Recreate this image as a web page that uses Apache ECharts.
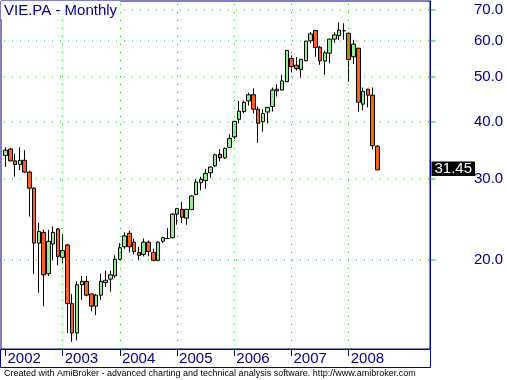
<!DOCTYPE html>
<html>
<head>
<meta charset="utf-8">
<script src="https://cdn.jsdelivr.net/npm/echarts@6/dist/echarts.min.js"></script>
<style>
html,body{margin:0;padding:0;background:#fff;}
#chart{width:507px;height:380px;}
</style>
</head>
<body>
<div id="chart"></div>
<script>
// ---- data (VIE.PA monthly, Jan 2002 .. Jul 2008) ----
const years = ['2002', '2003', '2004', '2005', '2006', '2007', '2008'];
const yearStartIndex = [0, 12, 24, 36, 48, 60, 72];
const priceTicks = [20, 30, 40, 50, 60, 70];
const opens = [
  33.8, 34.9, 32.9, 32.3, 33.0, 31.1, 28.7, 21.8, 23.0, 18.7, 21.7, 23.4,
  20.3, 21.6, 16.1, 13.9, 17.7, 18.0, 16.9, 15.9, 16.8, 17.9, 18.2, 18.5,
  20.1, 21.4, 22.9, 21.9, 20.8, 20.6, 21.9, 20.8, 20.0, 22.0, 22.3, 22.4,
  25.2, 25.8, 24.7, 25.8, 27.8, 29.5, 29.8, 31.0, 32.1, 34.0, 33.4, 35.2,
  37.1, 40.5, 42.1, 44.4, 45.8, 42.6, 40.0, 42.0, 43.2, 46.7, 46.9, 48.9,
  54.9, 53.1, 52.0, 54.3, 60.0, 63.2, 58.1, 54.2, 56.4, 60.5, 61.6, 63.1,
  62.3, 55.4, 57.8, 43.7, 47.1, 45.7, 35.4
];
const closes = [
  34.7, 32.9, 32.3, 33.0, 31.1, 28.7, 21.8, 23.1, 18.6, 22.0, 23.0, 20.4,
  21.0, 16.1, 13.9, 17.7, 18.0, 16.8, 15.9, 16.8, 18.0, 18.1, 18.6, 20.1,
  21.3, 22.6, 21.4, 20.9, 20.5, 21.9, 20.9, 20.0, 21.9, 22.4, 22.3, 25.2,
  25.9, 24.8, 25.8, 27.6, 29.6, 30.0, 30.9, 31.9, 33.9, 33.4, 35.0, 36.8,
  40.1, 42.2, 44.1, 45.8, 42.6, 39.7, 41.7, 43.0, 46.9, 47.1, 49.1, 57.2,
  52.7, 52.2, 54.7, 59.9, 62.1, 58.0, 54.3, 56.5, 60.5, 61.8, 63.3, 63.1,
  54.6, 59.0, 44.1, 46.6, 45.7, 35.5, 31.45
];
const lows = [
  31.9, 32.8, 30.4, 31.4, 31.0, 24.9, 18.7, 17.0, 15.9, 18.5, 20.0, 19.5,
  19.7, 13.9, 13.3, 13.4, 16.4, 16.7, 15.5, 15.2, 16.4, 17.5, 17.1, 18.3,
  20.0, 21.2, 20.8, 20.6, 20.0, 20.4, 20.4, 19.9, 19.9, 21.8, 22.3, 22.3,
  23.9, 24.1, 23.9, 25.7, 27.7, 28.4, 28.6, 30.2, 31.9, 32.8, 33.2, 35.1,
  36.7, 39.7, 41.7, 43.4, 41.7, 36.0, 38.1, 39.7, 42.1, 45.4, 46.8, 48.8,
  51.2, 51.7, 49.9, 54.2, 59.3, 55.4, 53.2, 50.6, 53.6, 59.4, 60.3, 60.3,
  48.9, 53.4, 42.1, 42.4, 43.0, 34.8, 31.4
];
const highs = [
  35.2, 35.1, 34.1, 35.2, 34.7, 31.3, 28.8, 24.1, 23.3, 23.3, 23.7, 23.5,
  22.8, 21.7, 16.9, 18.0, 18.5, 18.5, 16.9, 16.9, 18.7, 19.0, 19.0, 20.5,
  21.8, 23.0, 23.2, 22.3, 21.4, 22.3, 22.1, 21.2, 22.0, 22.5, 23.5, 25.3,
  26.0, 26.8, 25.9, 27.7, 30.0, 30.4, 31.6, 32.0, 34.1, 34.9, 35.2, 37.6,
  40.2, 44.4, 44.5, 46.3, 47.3, 43.2, 42.6, 43.1, 47.5, 48.3, 50.6, 57.3,
  55.8, 55.3, 54.8, 60.0, 62.7, 63.3, 58.5, 57.1, 60.6, 62.6, 65.8, 65.5,
  62.6, 60.3, 58.0, 47.5, 47.2, 47.5, 35.6
];

// logarithmic price scale: the value axis works in log10(price)
const LOG = v => Math.log10(v);
const candleData = opens.map((o, i) => [i, LOG(o), LOG(closes[i]), LOG(lows[i]), LOG(highs[i])]);
const lastClose = closes[closes.length - 1];
const logTicks = priceTicks.map(LOG);

const NAVY = '#00008c';
const GRID_GREEN = '#00c800';
const FONT = 'Liberation Sans, Arial, sans-serif';
const X_MIN = -0.944, X_MAX = 89.05;
const Y_MIN = 12.83, Y_MAX = 73.23;

// horizontal dotted price gridlines + green outer ticks, placed through the axes
function renderPriceGrid(params, api) {
  const v = api.value(1);
  const pL = api.coord([X_MIN, v]);
  const pR = api.coord([X_MAX, v]);
  const row = Math.round(pL[1]);
  const children = [];
  for (let x = Math.round(pL[0]) + 3; x < pR[0] - 1; x += 8) {
    children.push({type: 'rect', shape: {x: x, y: row - 0.5, width: 1, height: 1},
      style: {fill: GRID_GREEN}});
  }
  children.push({type: 'rect', shape: {x: Math.round(pR[0]) + 0.5, y: row - 0.5, width: 5, height: 1},
    style: {fill: GRID_GREEN}});
  return {type: 'group', children: children};
}

const chart = echarts.init(document.getElementById('chart'), null, {renderer: 'canvas'});
chart.setOption({
  animation: false,
  backgroundColor: '#fff',
  title: [{
    text: 'VIE.PA - Monthly',
    left: 1, top: 1,
    padding: [2, 3, 1, 3],
    backgroundColor: '#fff',
    z: 10,
    textStyle: {color: NAVY, fontSize: 15, fontWeight: 'normal', fontFamily: FONT}
  }, {
    text: 'Created with AmiBroker - advanced charting and technical analysis software. http://www.amibroker.com',
    left: 1, top: 368,
    padding: [1, 3, 0, 3],
    textStyle: {color: '#000', fontSize: 9, fontWeight: 'normal', fontFamily: FONT}
  }],
  grid: {
    left: 1, top: 1, right: 77, bottom: 31,
    show: true, borderColor: NAVY, borderWidth: 1, backgroundColor: 'transparent'
  },
  xAxis: {
    type: 'value',
    min: X_MIN, max: X_MAX,
    position: 'bottom',
    axisLine: {show: true, onZero: false, lineStyle: {color: NAVY, width: 1}},
    axisTick: {show: true, inside: false, length: 7, customValues: yearStartIndex, lineStyle: {color: NAVY}},
    axisLabel: {
      show: true, customValues: yearStartIndex, align: 'left', margin: 2,
      padding: [0, 0, 0, 2],
      color: NAVY, fontSize: 15, fontFamily: FONT,
      formatter: v => years[yearStartIndex.indexOf(v)]
    },
    splitLine: {show: false}
  },
  yAxis: {
    type: 'value',
    min: LOG(Y_MIN), max: LOG(Y_MAX),
    position: 'right',
    axisLine: {show: true, onZero: false, lineStyle: {color: NAVY, width: 1}},
    axisTick: {show: false},
    axisLabel: {
      show: true, customValues: logTicks, margin: 44,
      color: NAVY, fontSize: 15, fontFamily: FONT,
      formatter: v => Math.pow(10, v).toFixed(1)
    },
    splitLine: {show: false}
  },
  graphic: [{
    type: 'polyline',
    shape: {points: [[0.5, 349.5], [0.5, 367.5], [430.5, 367.5], [430.5, 349.5]]},
    style: {fill: 'none', stroke: NAVY, lineWidth: 1},
    silent: true
  }],
  series: [{
    type: 'custom',
    z: 1,
    silent: true,
    clip: false,
    data: logTicks.map(v => [X_MIN, v]),
    encode: {x: 0, y: 1},
    renderItem: renderPriceGrid
  }, {
    type: 'line',
    data: [],
    z: 1,
    silent: true,
    markLine: {
      silent: true,
      symbol: ['none', 'none'],
      label: {show: false},
      lineStyle: {color: GRID_GREEN, width: 1, type: [1, 7]},
      data: yearStartIndex.slice(1).map(v => ({xAxis: v}))
    }
  }, {
    type: 'candlestick',
    z: 3,
    data: candleData,
    encode: {x: 0, y: [1, 2, 3, 4]},
    barWidth: 4,
    itemStyle: {
      color: '#90ee90',
      color0: '#ff6020',
      borderColor: '#000',
      borderColor0: '#000',
      borderColorDoji: '#000',
      borderWidth: 1
    },
    markLine: {
      silent: true,
      symbol: ['none', 'none'],
      lineStyle: {color: 'rgba(0,0,0,0)', width: 1, opacity: 1},
      label: {
        show: true, position: 'end', distance: 1.5,
        backgroundColor: '#000', color: '#fff',
        fontSize: 15, fontFamily: FONT, lineHeight: 14.5,
        padding: [0, 3, 0, 3],
        formatter: () => lastClose.toFixed(2)
      },
      data: [{yAxis: LOG(lastClose)}]
    }
  }]
});
</script>
</body>
</html>
